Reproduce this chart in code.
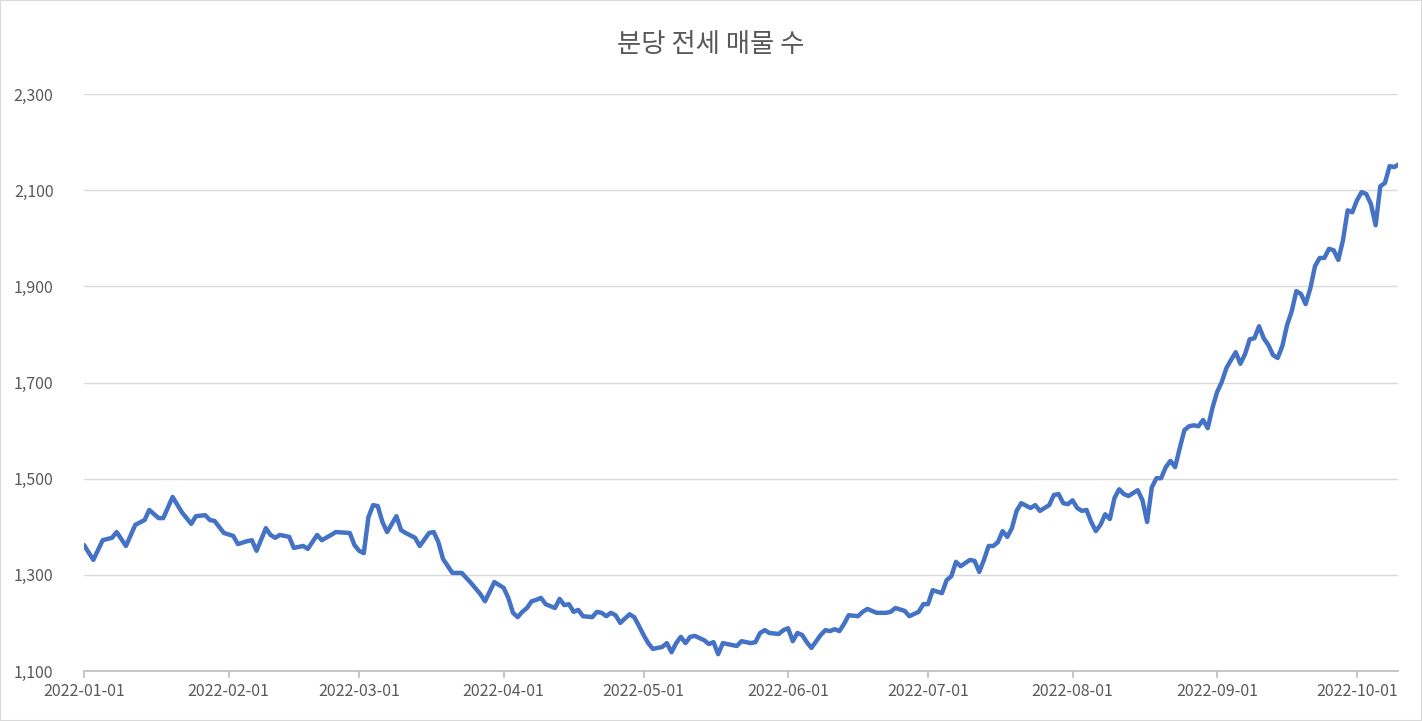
import numpy as np, pandas as pd, seaborn as sns, matplotlib
matplotlib.use("Agg")
import matplotlib.pyplot as plt
import matplotlib.dates as mdates
from matplotlib.ticker import FuncFormatter, FixedLocator

start_date = "2022-01-01"
day_offsets = [0,2,4,6,7,9,11,13,14,16,17,19,21,22,23,24,26,27,28,30,32,33,35,36,37,39,40,41,42,44,45,47,48,50,51,53,54,57,58,59,60,61,62,63,64,65,67,68,69,71,72,74,75,76,77,79,81,83,85,86,88,90,91,92,93,94,95,96,97,98,99,101,102,103,104,105,106,107,109,110,111,112,113,114,115,117,118,119,120,121,122,124,125,126,127,128,129,130,131,133,134,135,136,137,139,140,141,143,144,145,146,147,149,150,151,152,153,154,155,156,158,159,160,161,162,163,164,166,167,168,170,172,173,174,176,177,179,180,181,182,184,185,186,187,188,190,191,192,193,194,195,196,197,198,199,200,201,203,204,205,207,208,209,210,211,212,213,214,215,216,217,218,219,220,221,222,223,224,225,226,227,228,229,230,231,232,233,234,235,236,237,238,239,240,241,242,243,244,245,246,247,248,249,250,251,252,253,254,255,256,257,258,259,260,261,262,263,264,265,266,267,268,269,270,271,272,273,274,275,276,277,278,279,280,281,282]
listings = [1362,1331,1372,1377,1389,1360,1404,1414,1435,1418,1418,1462,1430,1418,1406,1422,1424,1414,1412,1387,1381,1364,1370,1372,1350,1397,1383,1377,1383,1379,1356,1360,1354,1383,1372,1383,1389,1387,1362,1350,1345,1420,1445,1443,1410,1389,1422,1393,1387,1377,1360,1387,1389,1368,1333,1304,1304,1283,1260,1245,1285,1273,1252,1221,1212,1223,1231,1245,1248,1252,1239,1231,1250,1237,1239,1223,1227,1214,1212,1223,1221,1214,1221,1216,1200,1218,1212,1194,1175,1158,1146,1150,1158,1139,1158,1171,1158,1171,1173,1164,1156,1160,1135,1158,1154,1152,1162,1158,1160,1179,1185,1179,1177,1185,1189,1162,1179,1175,1160,1148,1175,1185,1183,1187,1183,1198,1216,1214,1223,1229,1221,1221,1223,1231,1225,1214,1223,1239,1239,1268,1262,1289,1297,1327,1318,1331,1329,1306,1331,1360,1360,1368,1391,1379,1397,1433,1449,1439,1445,1433,1445,1466,1468,1449,1447,1455,1439,1433,1435,1410,1391,1404,1426,1416,1460,1478,1468,1464,1470,1476,1455,1410,1482,1501,1501,1524,1537,1524,1564,1601,1609,1611,1609,1622,1605,1647,1680,1701,1730,1747,1763,1739,1759,1790,1792,1817,1792,1778,1757,1751,1776,1819,1848,1890,1884,1863,1896,1942,1959,1959,1978,1975,1955,1996,2058,2054,2079,2096,2092,2071,2027,2108,2115,2150,2148,2154]
y_ticks = [1100, 1300, 1500, 1700, 1900, 2100, 2300]
title = "분당 전세 매물 수"

df = pd.DataFrame({"date": pd.Timestamp(start_date) + pd.to_timedelta(day_offsets, unit="D"), "count": listings})

sns.set_theme(style="white")
plt.rcParams['font.family'] = ['Noto Sans CJK KR', 'DejaVu Sans']
fig = plt.figure(figsize=(14.22, 7.21), dpi=100)
ax = fig.add_axes([84/1422, 50/721, (1398-84)/1422, (671-94)/721])
sns.lineplot(data=df, x="date", y="count", ax=ax, color="#4472C4", linewidth=3.2)
ax.set_ylim(y_ticks[0], y_ticks[-1])
ax.set_xlim(pd.Timestamp("2022-01-01"), pd.Timestamp("2022-01-01") + pd.Timedelta(days=281.8))
ax.yaxis.set_major_locator(FixedLocator(y_ticks))
ax.yaxis.set_major_formatter(FuncFormatter(lambda v, p: f"{int(v):,}"))
ax.xaxis.set_major_locator(mdates.MonthLocator())
ax.xaxis.set_major_formatter(mdates.DateFormatter("%Y-%m-%d"))
ax.grid(axis="y", color="#D9D9D9", linewidth=1)
for s in ["top", "right", "left"]:
    ax.spines[s].set_visible(False)
ax.spines["bottom"].set_color("#BFBFBF")
ax.tick_params(axis="x", direction="out", length=5, color="#BFBFBF", labelsize=11.5, labelcolor="#595959", pad=4, bottom=True)
ax.tick_params(axis="y", length=0, labelsize=11.5, labelcolor="#595959", pad=22)
ax.set_xlabel(""); ax.set_ylabel("")
fig.text(0.5, 1 - 45/721, title, ha="center", va="center", fontsize=19, color="#595959")
fig.patches.append(matplotlib.patches.Rectangle((0, 0), 1, 1, transform=fig.transFigure, fill=False, edgecolor="#D9D9D9", linewidth=1.5))
fig.savefig("out.png", dpi=100)
